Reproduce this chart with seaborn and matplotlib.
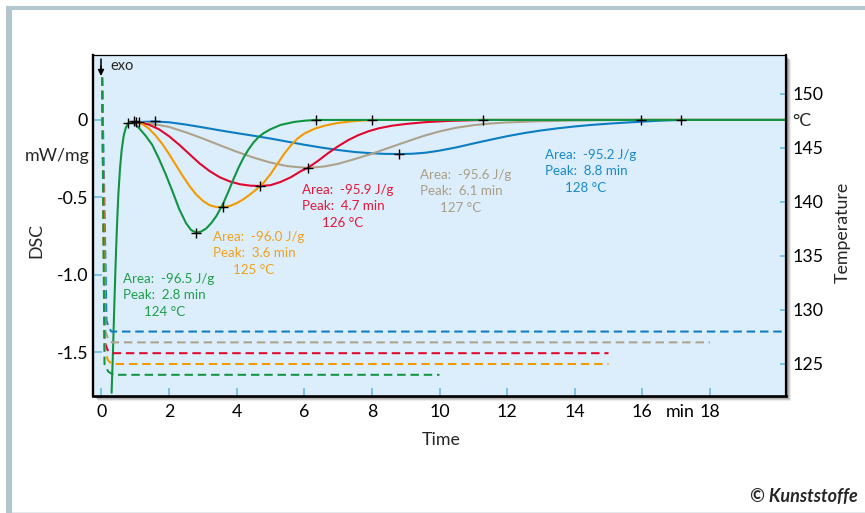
import matplotlib
matplotlib.use("Agg")
import matplotlib.pyplot as plt
from matplotlib.patches import Rectangle
import pandas as pd
import seaborn as sns

# ---- DSC signal (mW/mg) versus time (min) for the five isothermal runs ----
green_time = [0.30, 0.34, 0.38, 0.42, 0.46, 0.50, 0.55, 0.60, 0.66, 0.72, 0.80, 0.90, 1.00,
              1.10, 1.30, 1.50, 1.70, 1.90, 2.10, 2.30, 2.50, 2.65, 2.80, 2.95, 3.10, 3.25,
              3.40, 3.60, 3.75, 3.90, 4.05, 4.20, 4.35, 4.50, 4.65, 4.80, 5.00, 5.30, 5.70,
              6.00, 6.35, 20.25]
green_dsc = [-1.76, -1.50, -1.20, -0.92, -0.68, -0.48, -0.31, -0.19, -0.10, -0.05, -0.02, -0.015,
             -0.025, -0.05, -0.10, -0.16, -0.25, -0.35, -0.46, -0.575, -0.665, -0.71, -0.727,
             -0.72, -0.70, -0.665, -0.62, -0.54, -0.465, -0.385, -0.31, -0.245, -0.19, -0.145,
             -0.11, -0.085, -0.06, -0.032, -0.013, -0.005, 0.0, 0.0]

orange_time = [0.90, 0.95, 1.2, 1.4, 1.6, 1.8, 2.0, 2.2, 2.4, 2.6, 2.8, 3.0, 3.2, 3.4, 3.6, 3.8,
               4.0, 4.2, 4.4, 4.6, 4.7, 4.8, 5.0, 5.2, 5.4, 5.6, 5.8, 6.0, 6.3, 6.6, 7.0, 7.5,
               8.0, 20.25]
orange_dsc = [-0.015, -0.01, -0.025, -0.055, -0.10, -0.155, -0.22, -0.29, -0.36, -0.425, -0.48,
              -0.522, -0.55, -0.562, -0.563, -0.555, -0.537, -0.512, -0.48, -0.445, -0.426,
              -0.405, -0.35, -0.285, -0.22, -0.165, -0.12, -0.088, -0.057, -0.037, -0.019,
              -0.007, 0.0, 0.0]

red_time = [0.90, 1.02, 1.4, 1.7, 2.0, 2.3, 2.6, 2.9, 3.2, 3.5, 3.8, 4.1, 4.4, 4.7, 5.0, 5.3,
            5.6, 5.9, 6.1, 6.4, 6.7, 7.0, 7.3, 7.6, 7.9, 8.2, 8.6, 9.0, 9.6, 10.3, 11.3, 20.25]
red_dsc = [-0.015, -0.012, -0.03, -0.06, -0.105, -0.16, -0.22, -0.28, -0.33, -0.37, -0.397,
           -0.415, -0.424, -0.426, -0.421, -0.40, -0.37, -0.33, -0.31, -0.265, -0.215, -0.17,
           -0.13, -0.098, -0.073, -0.054, -0.037, -0.026, -0.014, -0.006, 0.0, 0.0]

grey_time = [0.90, 1.10, 1.5, 2.0, 2.5, 3.0, 3.5, 4.0, 4.5, 5.0, 5.5, 6.1, 6.6, 7.0, 7.5, 8.0,
             8.5, 9.0, 9.5, 10.0, 10.5, 11.0, 11.5, 12.0, 13.0, 14.0, 15.0, 15.95, 20.25]
grey_dsc = [-0.015, -0.012, -0.025, -0.045, -0.08, -0.12, -0.163, -0.205, -0.243, -0.275, -0.298,
            -0.31, -0.30, -0.283, -0.252, -0.218, -0.18, -0.142, -0.105, -0.074, -0.05, -0.034,
            -0.023, -0.016, -0.008, -0.004, -0.001, 0.0, 0.0]

blue_time = [0.90, 1.58, 2.0, 2.5, 3.0, 3.5, 4.0, 4.5, 5.0, 5.5, 6.0, 6.5, 7.0, 7.5, 8.0, 8.4,
             8.8, 9.2, 9.6, 10.0, 10.5, 11.0, 11.5, 12.0, 12.5, 13.0, 13.5, 14.0, 14.5, 15.0,
             15.5, 16.0, 16.5, 17.15, 20.25]
blue_dsc = [-0.015, -0.01, -0.015, -0.03, -0.048, -0.067, -0.085, -0.102, -0.12, -0.14, -0.16,
            -0.178, -0.194, -0.207, -0.215, -0.219, -0.22, -0.218, -0.211, -0.198, -0.177,
            -0.152, -0.128, -0.105, -0.085, -0.068, -0.054, -0.042, -0.032, -0.024, -0.017,
            -0.011, -0.005, 0.0, 0.0]

# start / peak / end evaluation points of each peak (min)
green_marks = [0.80, 2.80, 6.35]
orange_marks = [0.95, 3.60, 8.00]
red_marks = [1.02, 4.70, 11.30]
grey_marks = [1.10, 6.10, 15.95]
blue_marks = [1.58, 8.80, 17.15]

# ---- sample temperature (°C) versus time (min) ----
green_temp_time = [0.02, 0.09, 0.20, 0.35, 10.0]
green_temp = [151.5, 125.0, 124.3, 124.0, 124.0]
orange_temp_time = [0.02, 0.10, 0.20, 0.32, 15.0]
orange_temp = [151.5, 126.2, 125.3, 125.0, 125.0]
red_temp_time = [0.02, 0.10, 0.18, 0.30, 15.0]
red_temp = [151.5, 127.0, 126.3, 126.0, 126.0]
grey_temp_time = [0.02, 0.12, 0.20, 0.30, 18.0]
grey_temp = [151.5, 128.0, 127.3, 127.0, 127.0]
blue_temp_time = [0.02, 0.15, 0.22, 0.30, 20.25]
blue_temp = [151.5, 129.0, 128.3, 128.0, 128.0]

# ---- evaluation results ----
iso_temps = [124, 125, 126, 127, 128]
areas = [-96.5, -96.0, -95.9, -95.6, -95.2]
peak_times = [2.8, 3.6, 4.7, 6.1, 8.8]

x_ticks = [0, 2, 4, 6, 8, 10, 12, 14, 16, 18]
dsc_ticks = [0, -0.5, -1.0, -1.5]
dsc_tick_labels = ["0", "-0.5", "-1.0", "-1.5"]
temp_ticks = [125, 130, 135, 140, 145, 150]

line_colors = ["#119442", "#F39A00", "#E1062D", "#ADA28A", "#0C7DC2"]
text_colors = ["#1E9E4A", "#F2A01C", "#E2173A", "#A99E86", "#1788CF"]

runs = [
    (green_time, green_dsc, green_marks, green_temp_time, green_temp),
    (orange_time, orange_dsc, orange_marks, orange_temp_time, orange_temp),
    (red_time, red_dsc, red_marks, red_temp_time, red_temp),
    (grey_time, grey_dsc, grey_marks, grey_temp_time, grey_temp),
    (blue_time, blue_dsc, blue_marks, blue_temp_time, blue_temp),
]

# label anchor for each annotation block (data coords of first line, x of temperature line)
label_pos = [(0.64, -1.026, 1.87), (3.29, -0.757, 4.49), (5.92, -0.452, 7.13),
             (9.42, -0.357, 10.62), (13.12, -0.226, 14.33)]

sns.set_theme(style="white")
plt.rcParams["font.family"] = ["Lato", "DejaVu Sans"]
plt.rcParams["axes.unicode_minus"] = False

W, H = 865, 513
fig = plt.figure(figsize=(W / 100, H / 100), dpi=100)
fig.patch.set_facecolor("white")


def fx(px):
    return px / W


def fy(py):
    return 1 - py / H


# outer frame bands
fig.patches.append(Rectangle((fx(6), fy(10)), 1 - fx(6), 4 / H, transform=fig.transFigure,
                             facecolor="#B3C6D0", edgecolor="none", zorder=-5))
fig.patches.append(Rectangle((fx(6), 0), 6 / W, fy(6), transform=fig.transFigure,
                             facecolor="#B3C6D0", edgecolor="none", zorder=-5))
fig.patches.append(Rectangle((fx(12), 0), 1 - fx(12), 1.5 / H, transform=fig.transFigure,
                             facecolor="#E4E8EA", edgecolor="none", zorder=-5))

ax_l, ax_r, ax_t, ax_b = 93, 786, 55, 396
# soft drop shadow behind the plot panel
for off, a in [(5, 0.10), (4, 0.16), (3, 0.22), (2, 0.30)]:
    fig.patches.append(Rectangle((fx(ax_l + off), fy(ax_b + off)), (ax_r - ax_l) / W,
                                 (ax_b - ax_t) / H, transform=fig.transFigure,
                                 facecolor="#404040", alpha=a, edgecolor="none", zorder=-1))

ax = fig.add_axes([fx(ax_l), fy(ax_b), (ax_r - ax_l) / W, (ax_b - ax_t) / H])
ax.set_facecolor("#DCEEFB")
ax2 = ax.twinx()

# temperature programmes (dashed, right axis)
for i in reversed(range(5)):
    tt, tv = runs[i][3], runs[i][4]
    df = pd.DataFrame({"time": tt, "temp": tv})
    sns.lineplot(data=df, x="time", y="temp", ax=ax2, color=line_colors[i], linewidth=1.45,
                 linestyle=(0, (4.2, 2.4)), sort=False, estimator=None)

# DSC curves (solid, left axis)
for i in reversed(range(5)):
    t, d, marks = runs[i][0], runs[i][1], runs[i][2]
    df = pd.DataFrame({"time": t, "dsc": d})
    sns.lineplot(data=df, x="time", y="dsc", ax=ax, color=line_colors[i], linewidth=1.5,
                 sort=False, estimator=None, zorder=3 + (5 - i) * 0.1)
for i in range(5):
    t, d, marks = runs[i][0], runs[i][1], runs[i][2]
    mk = pd.DataFrame({"time": [tm for tm in t if tm in marks],
                       "dsc": [dv for tm, dv in zip(t, d) if tm in marks]})
    sns.scatterplot(data=mk, x="time", y="dsc", ax=ax, marker="+", color="black", s=55,
                    linewidth=1.0, zorder=6)

# annotation blocks
for i in range(5):
    x0, y0, xt = label_pos[i]
    ax.text(x0, y0, f"Area:  {areas[i]:.1f} J/g", color=text_colors[i], fontsize=9.6,
            ha="left", va="center", zorder=7)
    ax.text(x0, y0 - 0.101, f"Peak:  {peak_times[i]:.1f} min", color=text_colors[i],
            fontsize=9.6, ha="left", va="center", zorder=7)
    ax.text(xt, y0 - 0.212, f"{iso_temps[i]} °C", color=text_colors[i], fontsize=9.6,
            ha="center", va="center", zorder=7)

ax.set_xlim(-0.25, 20.25)
ax.set_ylim(-1.781, 0.419)
ax2.set_ylim(122.04, 153.58)

ax.set_xticks(x_ticks)
ax.set_xticklabels([str(v) for v in x_ticks])
ax.set_yticks(dsc_ticks)
ax.set_yticklabels(dsc_tick_labels)
ax2.set_yticks(temp_ticks)
ax2.set_yticklabels([str(v) for v in temp_ticks])
ax.set_xlabel("")
ax.set_ylabel("")
ax2.set_ylabel("")

tick_col = "#79C3E8"
lab_size = 12.8
ax.tick_params(axis="y", direction="in", length=6.5, width=1.4, color=tick_col,
               labelsize=lab_size, pad=3.5, labelcolor="black", left=True)
ax.tick_params(axis="x", direction="in", length=6.0, width=1.4, color=tick_col,
               labelsize=lab_size, pad=5.5, labelcolor="black", bottom=True)
ax2.tick_params(axis="y", direction="in", length=4.5, width=1.4, color=tick_col,
                labelsize=lab_size, pad=5.0, labelcolor="black", right=True)

for s in ["top", "right", "left", "bottom"]:
    ax2.spines[s].set_visible(False)
ax2.spines["right"].set_visible(True)
ax2.spines["right"].set_color("black")
ax2.spines["right"].set_linewidth(1.6)
ax.spines["right"].set_visible(False)
ax.spines["left"].set_color("black")
ax.spines["left"].set_linewidth(1.7)
ax.spines["bottom"].set_color("black")
ax.spines["bottom"].set_linewidth(1.9)
ax.spines["top"].set_color("black")
ax.spines["top"].set_linewidth(0.9)
ax.grid(False)
ax2.grid(False)

# "min" unit between the last tick labels
ax.text(17.12, -0.022, "min", transform=ax.get_xaxis_transform(), ha="center", va="top",
        fontsize=lab_size, color="black")

# axis titles and units
fig.text(fx(441), fy(440), "Time", ha="center", va="center", fontsize=lab_size)
fig.text(fx(36), fy(240), "DSC", ha="center", va="center", rotation=90, fontsize=lab_size)
fig.text(fx(57), fy(156), "mW/mg", ha="center", va="center", fontsize=lab_size)
fig.text(fx(843), fy(232), "Temperature", ha="center", va="center", rotation=90,
         fontsize=lab_size)
fig.text(fx(792), fy(121), "°C", ha="left", va="center", fontsize=lab_size)

# exotherm direction
fig.add_artist(plt.Line2D([fx(101), fx(101)], [fy(59), fy(70)], color="black", lw=1.1))
ax.annotate("", xy=(fx(101), fy(76)), xytext=(fx(101), fy(66)), xycoords="figure fraction",
            textcoords="figure fraction",
            arrowprops=dict(arrowstyle="-|>", color="black", lw=1.0, mutation_scale=9,
                            shrinkA=0, shrinkB=0))
fig.text(fx(110), fy(66), "exo", ha="left", va="center", fontsize=10.5)

fig.text(fx(858), fy(497), "© Kunststoffe", ha="right", va="center", fontsize=13,
         fontweight="bold", fontstyle="italic")

fig.savefig("out.png", dpi=100)
